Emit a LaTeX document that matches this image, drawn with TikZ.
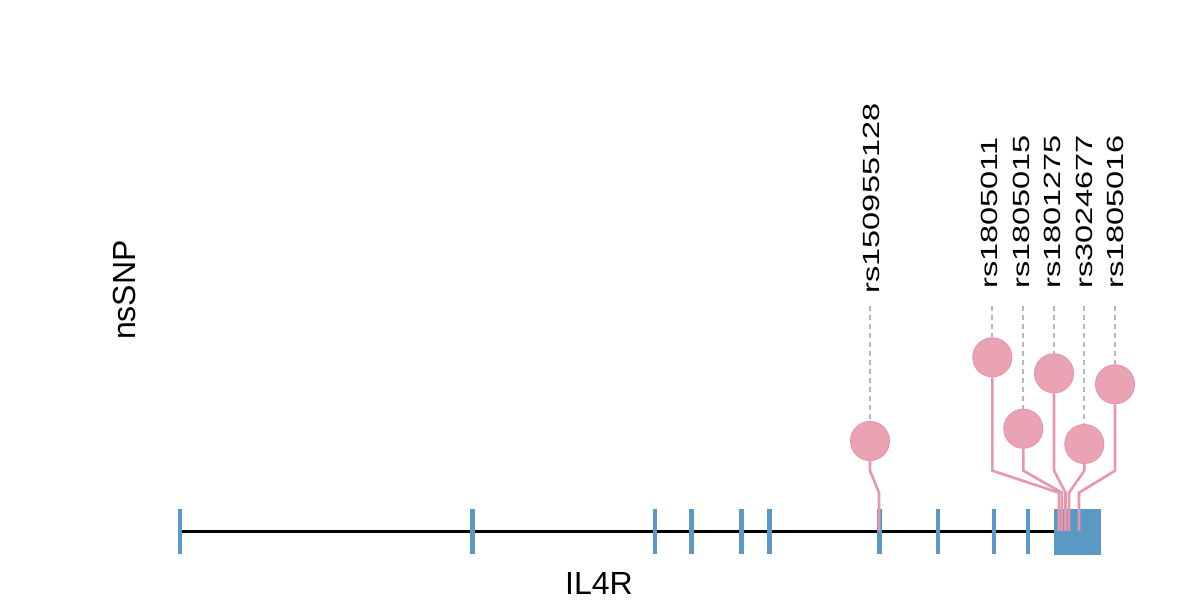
\documentclass[tikz,border=0pt]{standalone}
\usepackage{fontspec}
\setmainfont{Liberation Sans}
\definecolor{exon}{HTML}{5B98C4}
\definecolor{pinkfill}{HTML}{E9A3B3}
\definecolor{pinkline}{HTML}{E796AC}
\definecolor{dashgray}{HTML}{B8B8B8}
\begin{document}
\begin{tikzpicture}[x=1pt,y=-1pt,
  exontick/.style={draw=exon,line width=#1},
  backbone/.style={draw=black,line width=3pt},
  stem/.style={draw=pinkline,line width=2.6pt},
  guide/.style={draw=dashgray,line width=2.2pt,dash pattern=on 4.5pt off 4.5pt},
  snp/.style={circle,fill=pinkfill,draw=pinkline,line width=1pt,minimum size=39pt,inner sep=0pt},
  snplabel/.style={rotate=90,anchor=west,inner sep=0pt,font=\fontsize{32.5}{36}\selectfont},
  lbl/.style={inner sep=0pt,font=\fontsize{32}{36}\selectfont}]
\useasboundingbox (0,0) rectangle (1200,600);
% backbone
\coordinate (gstart) at (180,531);
\coordinate (gend) at (1054,531);
\draw[backbone] (gstart) -- (gend);
% exon ticks
\foreach \x/\w in {180/3.5pt,472/5pt,655/4pt,691/5pt,741/5pt,769/5pt,879/5pt,938/4pt,994/4pt,1028/3.5pt}{
  \draw[exontick=\w] (\x,509) -- (\x,554);
}
% last exon block
\fill[exon] (1054,509) rectangle (1101,555);
% SNPs
\foreach \i/\cx/\cy/\gx/\lx/\ly/\t in {
  0/870/441/879/871/293.5/rs150955128,
  1/992.3/357.3/1059/989/289/rs1805011,
  2/1023.3/428.7/1062/1021/289/rs1805015,
  3/1054/373.3/1065.5/1052.5/289/rs1801275,
  4/1084.3/444/1069/1084/289/rs3024677,
  5/1115/384.3/1079/1115.5/289/rs1805016}{
  \coordinate (g\i) at (\gx,531);
  \coordinate (b\i) at (\gx,492.7);
  \coordinate (k\i) at (\cx,470.7);
  \coordinate (t\i) at (\cx,306);
  \node[snp] (s\i) at (\cx,\cy) {};
  \draw[stem] (s\i.south) -- (k\i) -- (b\i) -- (g\i);
  \draw[guide] (t\i) -- (s\i.north);
  \node[snplabel] (l\i) at (\lx,\ly) {\scalebox{1}[0.72]{\t}};
}
% axis labels
\node[lbl,rotate=90] (ylab) at (124,290) {nsSNP};
\node[lbl,anchor=base] (glab) at (599,594.5) {IL4R};
\end{tikzpicture}
\end{document}
